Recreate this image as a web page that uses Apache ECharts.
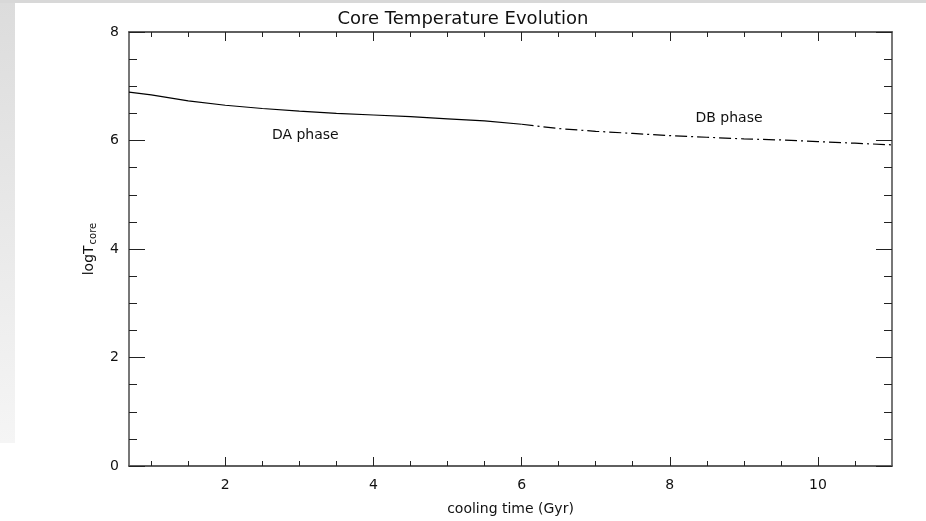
<!DOCTYPE html>
<html>
<head>
<meta charset="utf-8">
<script src="https://cdn.jsdelivr.net/npm/echarts@6/dist/echarts.min.js"></script>
<style>
  html, body { margin: 0; padding: 0; background: #ffffff; }
  #chart { width: 926px; height: 521px; }
</style>
</head>
<body>
<div id="chart"></div>
<script>
// DA phase (solid) and DB phase (dash-dot)
const daTime = [0.7, 1.0, 1.5, 2.0, 2.5, 3.0, 3.5, 4.0, 4.5, 5.0, 5.5, 6.0]
const daLogT = [6.89, 6.84, 6.73, 6.65, 6.59, 6.54, 6.50, 6.47, 6.44, 6.40, 6.36, 6.30]
const dbTime = [6.0, 6.5, 7.0, 7.5, 8.0, 8.5, 9.0, 9.5, 10.0, 10.5, 11.0]
const dbLogT = [6.30, 6.22, 6.17, 6.13, 6.09, 6.06, 6.03, 6.01, 5.98, 5.95, 5.92]

const xMajorTicks = [2, 4, 6, 8, 10]
const xMinorTicks = [1, 1.5, 2, 2.5, 3, 3.5, 4, 4.5, 5, 5.5, 6, 6.5, 7, 7.5, 8, 8.5, 9, 9.5, 10, 10.5]

const zip = (xs, ys) => xs.map((x, i) => [x, ys[i]])

const font = 'DejaVu Sans'
const axisColor = '#555555'
const tickColor = '#222222'

// x axes: major / minor ticks on bottom and top
const xAxisBase = (pos, major, withLabels) => ({
  type: 'value',
  position: pos,
  min: 0.7,
  max: 11,
  axisLine: { show: true, onZero: false, lineStyle: { color: axisColor, width: 1.6 } },
  splitLine: { show: false },
  axisTick: {
    show: true,
    inside: true,
    length: major ? 9 : 5,
    customValues: major ? xMajorTicks : xMinorTicks,
    lineStyle: { color: tickColor, width: 1 }
  },
  axisLabel: withLabels ? {
    show: true,
    customValues: xMajorTicks,
    margin: 12,
    fontFamily: font,
    fontSize: 14,
    color: '#111'
  } : { show: false }
})

const yAxisBase = (pos, withLabels) => ({
  type: 'value',
  position: pos,
  min: 0,
  max: 8,
  interval: 2,
  axisLine: { show: true, onZero: false, lineStyle: { color: axisColor, width: 1.6 } },
  splitLine: { show: false },
  axisTick: { show: true, inside: true, length: 16, lineStyle: { color: tickColor, width: 1 } },
  minorTick: { show: true, splitNumber: 4, length: 8, lineStyle: { color: tickColor, width: 1 } },
  minorSplitLine: { show: false },
  axisLabel: withLabels ? { show: true, margin: 10, fontFamily: font, fontSize: 14, color: '#111' } : { show: false }
})

const chart = echarts.init(document.getElementById('chart'))

const xMain = xAxisBase('bottom', true, true)
xMain.name = 'cooling time (Gyr)'
xMain.nameLocation = 'middle'
xMain.nameGap = 36
xMain.nameTextStyle = { fontFamily: font, fontSize: 14, color: '#111' }

const yMain = yAxisBase('left', true)
yMain.name = '{a|logT}{b|core}'
yMain.nameLocation = 'middle'
yMain.nameRotate = 90
yMain.nameGap = 31
yMain.nameTextStyle = {
  fontFamily: font,
  color: '#111',
  rich: {
    a: { fontFamily: font, fontSize: 14, color: '#111' },
    b: { fontFamily: font, fontSize: 10, color: '#111', padding: [7, 0, 0, 1] }
  }
}

const options = {
  backgroundColor: '#ffffff',
  animation: false,
  title: {
    text: 'Core Temperature Evolution',
    left: 'center',
    top: 5,
    textStyle: { fontFamily: font, fontSize: 18, fontWeight: 'normal', color: '#111' }
  },
  graphic: [
    { type: 'rect', left: 0, top: 0, shape: { width: 926, height: 3 }, style: { fill: '#d8d8d8' }, z: -10 },
    {
      type: 'rect', left: 0, top: 3, shape: { width: 15, height: 440 },
      style: {
        fill: new echarts.graphic.LinearGradient(0, 0, 0, 1, [
          { offset: 0, color: '#dcdcdc' },
          { offset: 1, color: '#f5f5f5' }
        ])
      },
      z: -10
    }
  ],
  grid: { left: 129, right: 34, top: 32, bottom: 49 },
  xAxis: [
    xMain,
    xAxisBase('bottom', false, false),
    xAxisBase('top', true, false),
    xAxisBase('top', false, false)
  ],
  yAxis: [
    yMain,
    yAxisBase('right', false)
  ],
  series: [
    {
      name: 'DA',
      type: 'line',
      showSymbol: false,
      data: zip(daTime, daLogT),
      lineStyle: { color: '#000', width: 1.2 },
      markPoint: {
        symbol: 'circle',
        symbolSize: 0,
        data: [{ coord: [3.08, 6.09], value: 'DA phase' }],
        label: { show: true, position: 'inside', formatter: 'DA phase', fontFamily: font, fontSize: 14, color: '#111' }
      }
    },
    {
      name: 'DB',
      type: 'line',
      showSymbol: false,
      data: zip(dbTime, dbLogT),
      lineStyle: { color: '#000', width: 1.2, type: [12, 4, 2, 4] },
      markPoint: {
        symbol: 'circle',
        symbolSize: 0,
        data: [{ coord: [8.8, 6.4], value: 'DB phase' }],
        label: { show: true, position: 'inside', formatter: 'DB phase', fontFamily: font, fontSize: 14, color: '#111' }
      }
    }
  ]
}

chart.setOption(options)
</script>
</body>
</html>
